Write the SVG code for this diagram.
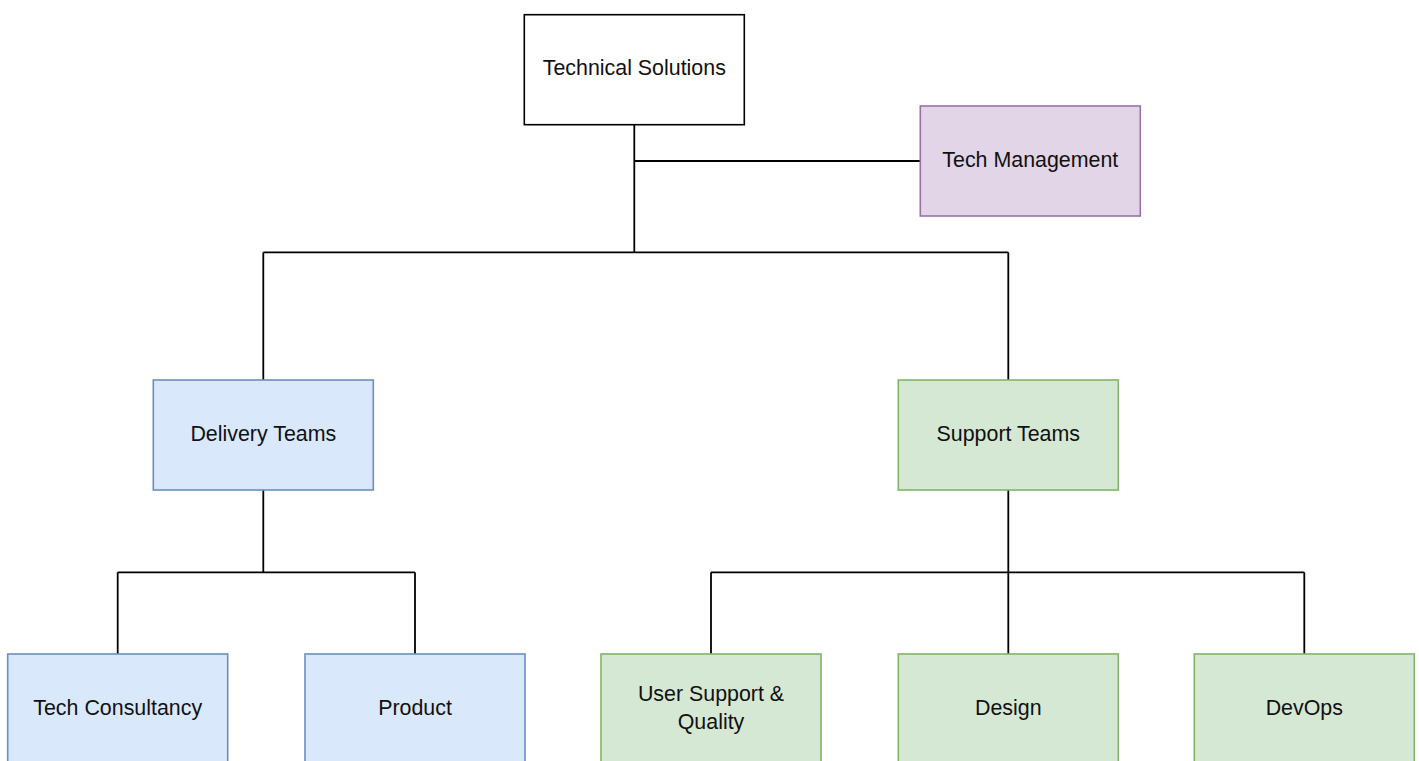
<svg xmlns="http://www.w3.org/2000/svg" width="1419" height="761" viewBox="0 0 1419 761">
<style>
  .lbl { font-family: "Liberation Sans", Arial, sans-serif; font-size: 21.4px; fill: #111; text-anchor: middle; }
  .conn { stroke: #000; stroke-width: 1.8; fill: none; }
  .plain { fill: #fff; stroke: #000; stroke-width: 1.6; }
  .purple { fill: #e1d5e7; stroke: #9673a6; stroke-width: 1.6; }
  .blue { fill: #dae8fc; stroke: #6c8ebf; stroke-width: 1.6; }
  .green { fill: #d5e8d4; stroke: #82b366; stroke-width: 1.6; }
</style>
<rect width="1419" height="761" fill="#fff"/>
<g id="connectors">
  <path class="conn" d="M634.3 125 V252.3"/>
  <path class="conn" d="M634.3 161 H920"/>
  <path class="conn" d="M263.3 252.3 H1008.3"/>
  <path class="conn" d="M263.3 252.3 V380"/>
  <path class="conn" d="M1008.3 252.3 V380"/>
  <path class="conn" d="M263.3 490 V572.3"/>
  <path class="conn" d="M117.7 572.3 H415"/>
  <path class="conn" d="M117.7 572.3 V654"/>
  <path class="conn" d="M415 572.3 V654"/>
  <path class="conn" d="M1008.3 490 V654"/>
  <path class="conn" d="M711 572.3 H1304.3"/>
  <path class="conn" d="M711 572.3 V654"/>
  <path class="conn" d="M1304.3 572.3 V654"/>
</g>
<g id="technical-solutions">
  <rect class="plain" x="524.3" y="14.7" width="220" height="110"/>
  <text class="lbl" x="634.3" y="75.2">Technical Solutions</text>
</g>
<g id="tech-management">
  <rect class="purple" x="920.3" y="106" width="220" height="110"/>
  <text class="lbl" x="1030.3" y="166.5">Tech Management</text>
</g>
<g id="delivery-teams">
  <rect class="blue" x="153.3" y="380" width="220" height="110"/>
  <text class="lbl" x="263.3" y="440.5">Delivery Teams</text>
</g>
<g id="support-teams">
  <rect class="green" x="898.3" y="380" width="220" height="110"/>
  <text class="lbl" x="1008.3" y="440.5">Support Teams</text>
</g>
<g id="tech-consultancy">
  <rect class="blue" x="7.7" y="654" width="220" height="110"/>
  <text class="lbl" x="117.7" y="714.5">Tech Consultancy</text>
</g>
<g id="product">
  <rect class="blue" x="305" y="654" width="220" height="110"/>
  <text class="lbl" x="415" y="714.5">Product</text>
</g>
<g id="user-support-quality">
  <rect class="green" x="601" y="654" width="220" height="110"/>
  <text class="lbl" x="711" y="700.5">User Support &amp;</text>
  <text class="lbl" x="711" y="728.5">Quality</text>
</g>
<g id="design">
  <rect class="green" x="898.3" y="654" width="220" height="110"/>
  <text class="lbl" x="1008.3" y="714.5">Design</text>
</g>
<g id="devops">
  <rect class="green" x="1194.3" y="654" width="220" height="110"/>
  <text class="lbl" x="1304.3" y="714.5">DevOps</text>
</g>
</svg>
